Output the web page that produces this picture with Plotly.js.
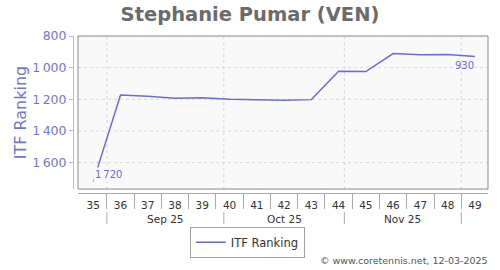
<!DOCTYPE html>
<html>
<head>
<meta charset="utf-8">
<script src="https://cdn.plot.ly/plotly-3.0.1.min.js"></script>
<style>html,body{margin:0;padding:0;background:#fff;}#chart{width:500px;height:270px;}</style>
</head>
<body>
<div id="chart"></div>
<script>
// Data
const weeks = [35, 36, 37, 38, 39, 40, 41, 42, 43, 44, 45, 46, 47, 48, 49];
const ranking = [1720, 1173, 1181, 1194, 1190, 1200, 1202, 1206, 1202, 1023, 1025, 911, 919, 917, 930];
const weekLabels = ['35','36','37','38','39','40','41','42','43','44','45','46','47','48','49'];
const weekSeparators = [35.5, 36.5, 37.5, 38.5, 39.5, 40.5, 41.5, 42.5, 43.5, 44.5, 45.5, 46.5, 47.5, 48.5];
const monthBounds = [35.5, 39.79, 44.21, 48.5];
const monthLabels = ['Sep 25', 'Oct 25', 'Nov 25'];
const yTickVals = [800, 1000, 1200, 1400, 1600];
const yTickText = ['800', '1\u2009000', '1\u2009200', '1\u2009400', '1\u2009600'];
const seriesName = 'ITF Ranking';

const lineColor = '#6b6bd0';
const axisBlue = '#7575cc';
const font = 'DejaVu Sans, Verdana, sans-serif';

const shapes = [];
const annotations = [];

// Plot border
shapes.push({type:'rect', xref:'x domain', yref:'y domain', x0:0, x1:1, y0:0, y1:1,
  line:{color:'#8a8a8a', width:1}, layer:'above'});
// Horizontal grid
yTickVals.forEach(v => shapes.push({type:'line', xref:'x domain', yref:'y', x0:0, x1:1, y0:v, y1:v,
  line:{color:'#d8d8d8', width:1, dash:'3px,3px'}, layer:'below'}));
// Vertical month grid + separators
monthBounds.forEach(b => {
  shapes.push({type:'line', xref:'x', yref:'y domain', x0:b, x1:b, y0:0, y1:1,
    line:{color:'#d4d4d4', width:1, dash:'3px,3px'}, layer:'below'});
  shapes.push({type:'line', xref:'x', yref:'paper', x0:b, x1:b, y0:-0.198, y1:-0.122,
    line:{color:'#aaaaaa', width:1}});
});
monthLabels.forEach((m, i) => annotations.push({xref:'x', yref:'paper',
  x:(monthBounds[i] + monthBounds[i+1]) / 2, y:-0.168, text:m, showarrow:false,
  xanchor:'center', yanchor:'middle', font:{family:font, size:10.5, color:'#333'}}));

// Value labels for first and last points
const first = 0, last = weeks.length - 1;
annotations.push({xref:'x', yref:'y', x:weeks[first], y:ranking[first],
  text:ranking[first].toString().replace(/\B(?=(\d{3})+(?!\d))/g, '\u2009'),
  showarrow:false, xanchor:'left', yanchor:'bottom', xshift:0, yshift:0,
  bgcolor:'#f9f9f9', borderpad:1, font:{family:font, size:10, color:lineColor}});
annotations.push({xref:'x', yref:'y', x:weeks[last], y:ranking[last],
  text:String(ranking[last]), showarrow:false, xanchor:'right', yanchor:'top', xshift:1, yshift:-1,
  font:{family:font, size:10, color:lineColor}});

// Footer
annotations.push({xref:'paper', yref:'paper', x:1.005, y:-0.428, text:'\u00a9 www.coretennis.net, 12-03-2025',
  showarrow:false, xanchor:'right', yanchor:'middle', font:{family:font, size:9.5, color:'#555'}});

const trace = {x:weeks, y:ranking, type:'scatter', mode:'lines', name:seriesName,
  line:{color:lineColor, width:1.5}, cliponaxis:true, hoverinfo:'skip'};

const layout = {
  width:500, height:270,
  margin:{l:73, r:12, t:36, b:75},
  paper_bgcolor:'#ffffff', plot_bgcolor:'#f9f9f9',
  font:{family:font},
  title:{text:'<b>Stephanie Pumar (VEN)</b>', x:0.5, xref:'container', y:0.948, yref:'container',
    yanchor:'middle', xanchor:'center', font:{family:font, size:19.5, color:'#6b6b6b'}},
  xaxis:{domain:[5/415, 1], anchor:'free', position:0, range:[34.44, 49.48],
    showgrid:false, zeroline:false, showline:true, linecolor:'#aaaaaa', linewidth:1,
    tickmode:'array', tickvals:weeks, ticktext:weekLabels, ticks:'', ticklen:0, ticklabelstandoff:2,
    tickfont:{family:font, size:10.5, color:'#333'},
    minor:{tickmode:'array', tickvals:weekSeparators, ticks:'outside', ticklen:15, tickcolor:'#aaaaaa', tickwidth:1, showgrid:false}},
  yaxis:{domain:[4/159, 1], anchor:'free', position:0, range:[1767, 800],
    showgrid:false, zeroline:false, showline:true, linecolor:'#b8b8e0', linewidth:1,
    tickmode:'array', tickvals:yTickVals, ticktext:yTickText, ticks:'outside', ticklen:4, tickcolor:'#b8b8e0',
    tickfont:{family:font, size:12.5, color:axisBlue},
    title:{text:seriesName, font:{family:font, size:16, color:axisBlue}, standoff:0}},
  showlegend:true,
  legend:{orientation:'h', x:0.42, xanchor:'center', y:-0.314, yanchor:'middle',
    bordercolor:'#a0a0a0', borderwidth:1, bgcolor:'#fff',
    font:{family:font, size:11.5, color:'#333'}},
  shapes:shapes, annotations:annotations
};

Plotly.newPlot('chart', [trace], layout, {staticPlot:true, displayModeBar:false});
</script>
</body>
</html>
